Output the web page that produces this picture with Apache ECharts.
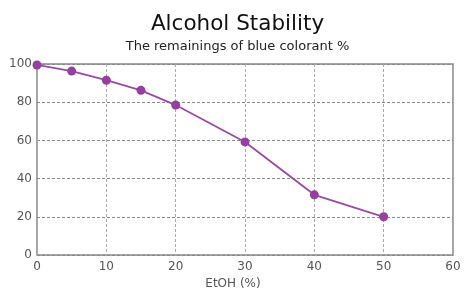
<!DOCTYPE html>
<html><head><meta charset="utf-8">
<script src="https://cdn.jsdelivr.net/npm/echarts@6/dist/echarts.min.js"></script>
<style>html,body{margin:0;padding:0;background:#fff}#c{width:475px;height:301px}</style>
</head><body><div id="c"></div>
<script>
const etoh = [0, 5, 10, 15, 20, 30, 40, 50];
const remaining = [99.5, 96.3, 91.5, 86.2, 78.5, 59.2, 31.5, 20];
const titleText = 'Alcohol Stability';
const subtitleText = 'The remainings of blue colorant %';
const xName = 'EtOH (%)';

const FONT = 'DejaVu Sans';
const chart = echarts.init(document.getElementById('c'), null, {renderer: 'canvas'});
chart.setOption({
  animation: false,
  backgroundColor: '#fff',
  title: {
    text: titleText, subtext: subtitleText, left: 'center', top: 8, itemGap: 5,
    textStyle: {fontFamily: FONT, fontSize: 21.5, fontWeight: 'normal', color: '#111'},
    subtextStyle: {fontFamily: FONT, fontSize: 13, color: '#222'}
  },
  grid: {left: 37, right: 22, top: 64, bottom: 46, show: true, borderColor: '#888', borderWidth: 1.5},
  xAxis: {
    type: 'value', min: 0, max: 60, interval: 10,
    name: xName, nameLocation: 'middle', nameGap: 21,
    nameTextStyle: {fontFamily: FONT, fontSize: 12, color: '#555', padding: [0, 24, 0, 0]},
    axisLine: {show: false}, axisTick: {show: false},
    axisLabel: {fontFamily: FONT, fontSize: 12, color: '#555', margin: 6},
    splitLine: {show: true, lineStyle: {color: '#aaa', type: [3, 2], width: 1}}
  },
  yAxis: {
    type: 'value', min: 0, max: 100, interval: 20,
    axisLine: {show: false}, axisTick: {show: false},
    axisLabel: {fontFamily: FONT, fontSize: 12, color: '#555', margin: 5},
    splitLine: {show: true, lineStyle: {color: '#888', type: [3, 2], width: 1}}
  },
  series: [{
    type: 'line',
    data: etoh.map((x, i) => [x, remaining[i]]),
    symbol: 'circle', symbolSize: 9,
    lineStyle: {color: '#9a4aa5', width: 1.8},
    itemStyle: {color: '#953f9f'}
  }]
});
</script></body></html>
